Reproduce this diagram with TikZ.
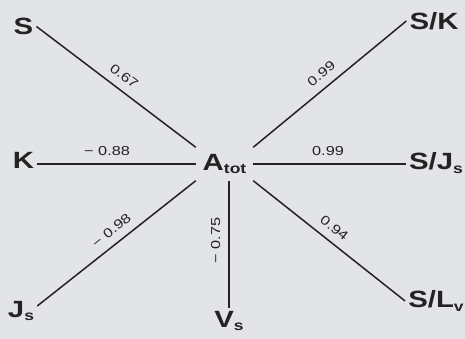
\documentclass[tikz,border=0pt]{standalone}
\usepackage{fontspec}
\setmainfont{Liberation Sans}
\usepackage{graphicx}
\usepackage{xcolor}
\definecolor{Paper}{HTML}{E2E4E8}
\definecolor{Ink}{HTML}{232323}
\newcommand{\wide}[1]{\scalebox{1.25}[1]{#1}}
\newcommand{\low}[1]{\raisebox{-0.3ex}{\fontsize{14}{14}\selectfont #1}}
\tikzset{
 var/.style={text=Ink, font=\fontsize{23.5}{26}\selectfont\bfseries, inner sep=3pt},
 link/.style={draw=Ink, line width=1.5pt},
 coef/.style={text=Ink, font=\fontsize{13}{14}\selectfont, sloped, above=6pt, inner sep=2pt}
}

\begin{document}
\begin{tikzpicture}[x=1pt,y=-1pt]
\fill[Paper] (0,0) rectangle (465,339);
\useasboundingbox (0,0) rectangle (465,339);
% variables
\node[var, minimum width=57pt, minimum height=33pt, inner sep=0pt] (A) at (224.5,164) {\wide{A\low{tot}}\hspace{4pt}};
\node[var] (S) at (23.5,26.5) {\wide{S}};
\node[var] (K) at (23.5,160) {\wide{K}};
\node[var] (Js) at (21,311) {\wide{J\low{s}}};
\node[var] (Vs) at (229,321) {\wide{V\low{s}}};
\node[var] (SK) at (434,21) {\wide{S/K}};
\node[var] (SJ) at (436,163) {\wide{S/J\low{s}}};
\node[var] (SL) at (436,301) {\wide{S/L\low{v}}};
% correlations
\draw[link] (S.east) -- node[coef, pos=0.5] {\wide{0.67}} (A.north west);
\draw[link] (K.east |- A.west) -- node[coef, pos=0.44] {\wide{− 0.88}} (A.west);
\draw[link] ([yshift=5pt]Js.east) -- node[coef, pos=0.52] {\wide{− 0.98}} (A.south west);
\draw[link] (Vs.north -| Vs.north) -- node[coef, pos=0.53] {\wide{− 0.75}} (A.south -| Vs.north);
\draw[link] (A.north east) -- node[coef, pos=0.5] {\wide{0.99}} (SK.west);
\draw[link] (A.east) -- node[coef, pos=0.49] {\wide{0.99}} (SJ.west |- A.east);
\draw[link] (A.south east) -- node[coef, pos=0.48] {\wide{0.94}} (SL.west);
\end{tikzpicture}
\end{document}
